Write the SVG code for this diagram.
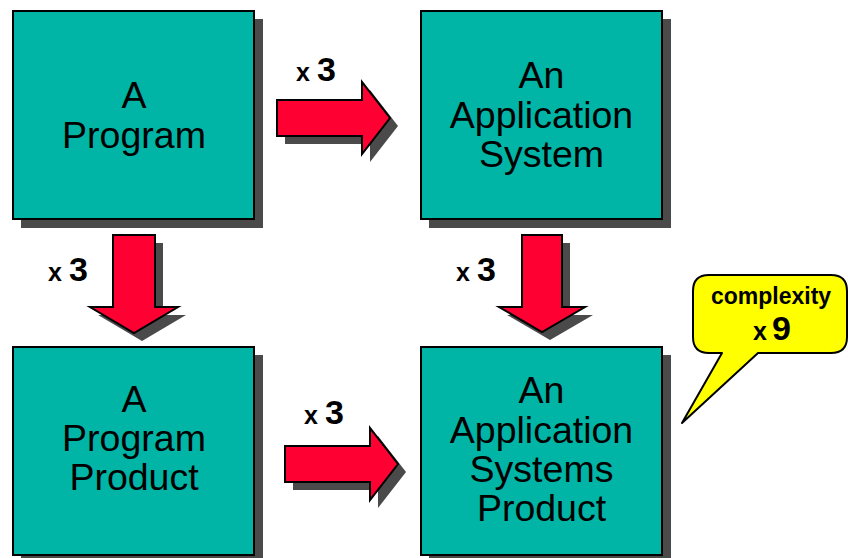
<svg xmlns="http://www.w3.org/2000/svg" width="848" height="558" viewBox="0 0 848 558">
  <style>
    .box { fill: #00B4A6; stroke: #000; stroke-width: 2; }
    .shadow { fill: #4A4A4A; }
    .arrow { fill: #FF0033; stroke: #000; stroke-width: 2; stroke-linejoin: miter; }
    .lbl { font-family: "Liberation Sans", Arial, sans-serif; font-size: 37.5px; fill: #000; text-anchor: middle; }
    .mul { font-family: "Liberation Sans", Arial, sans-serif; font-weight: bold; fill: #000; }
    .sx { font-size: 25px; }
    .big { font-size: 34px; }
    .callout { fill: #FFFF00; stroke: #000; stroke-width: 2; stroke-linejoin: round; }
  </style>
  <rect width="848" height="558" fill="#FFFFFF"/>

  <g id="program">
    <rect class="shadow" x="21" y="19" width="242" height="209"/>
    <rect class="box" x="13" y="11" width="241" height="208"/>
    <text class="lbl" x="134" y="108">A</text>
    <text class="lbl" x="134" y="148">Program</text>
  </g>

  <g id="application-system">
    <rect class="shadow" x="429" y="19" width="242" height="209"/>
    <rect class="box" x="421" y="11" width="241" height="208"/>
    <text class="lbl" x="541.5" y="88">An</text>
    <text class="lbl" x="541.5" y="128">Application</text>
    <text class="lbl" x="541.5" y="167">System</text>
  </g>

  <g id="program-product">
    <rect class="shadow" x="21" y="355" width="242" height="209"/>
    <rect class="box" x="13" y="347" width="241" height="208"/>
    <text class="lbl" x="134" y="412">A</text>
    <text class="lbl" x="134" y="451">Program</text>
    <text class="lbl" x="134" y="490">Product</text>
  </g>

  <g id="application-systems-product">
    <rect class="shadow" x="429" y="355" width="242" height="209"/>
    <rect class="box" x="421" y="347" width="241" height="208"/>
    <text class="lbl" x="541.5" y="403">An</text>
    <text class="lbl" x="541.5" y="443">Application</text>
    <text class="lbl" x="541.5" y="482">Systems</text>
    <text class="lbl" x="541.5" y="521">Product</text>
  </g>

  <g id="connectors">
    <!-- top: program to application system -->
    <polygon class="shadow" transform="translate(8,8)" points="277,100 362,100 362,82 390,118 362,154 362,136 277,136"/>
    <polygon class="arrow" points="277,100 362,100 362,82 390,118 362,154 362,136 277,136"/>
    <text class="mul" x="296" y="81"><tspan class="sx">x</tspan><tspan class="big" dx="7">3</tspan></text>

    <!-- left: program to program product -->
    <polygon class="shadow" transform="translate(8,8)" points="113,235 155,235 155,307 178,307 134,333 90,307 113,307"/>
    <polygon class="arrow" points="113,235 155,235 155,307 178,307 134,333 90,307 113,307"/>
    <text class="mul" x="48" y="281"><tspan class="sx">x</tspan><tspan class="big" dx="7">3</tspan></text>

    <!-- right: application system to application systems product -->
    <polygon class="shadow" transform="translate(8,8)" points="522,235 562,235 562,307 585,307 542,332 499,307 522,307"/>
    <polygon class="arrow" points="522,235 562,235 562,307 585,307 542,332 499,307 522,307"/>
    <text class="mul" x="456" y="281"><tspan class="sx">x</tspan><tspan class="big" dx="7">3</tspan></text>

    <!-- bottom: program product to application systems product -->
    <polygon class="shadow" transform="translate(8,8)" points="285,446 370,446 370,428 398,464 370,500 370,482 285,482"/>
    <polygon class="arrow" points="285,446 370,446 370,428 398,464 370,500 370,482 285,482"/>
    <text class="mul" x="304" y="424"><tspan class="sx">x</tspan><tspan class="big" dx="7">3</tspan></text>
  </g>

  <g id="complexity-callout">
    <path class="callout" d="M709,275 H831 Q847,275 847,291 V337 Q847,353 831,353 H758 L682,423 L722,353 H709 Q693,353 693,337 V291 Q693,275 709,275 Z"/>
    <text class="mul" x="771" y="304" text-anchor="middle" font-size="23">complexity</text>
    <text class="mul" x="753" y="340"><tspan class="sx">x</tspan><tspan class="big" dx="5">9</tspan></text>
  </g>
</svg>
